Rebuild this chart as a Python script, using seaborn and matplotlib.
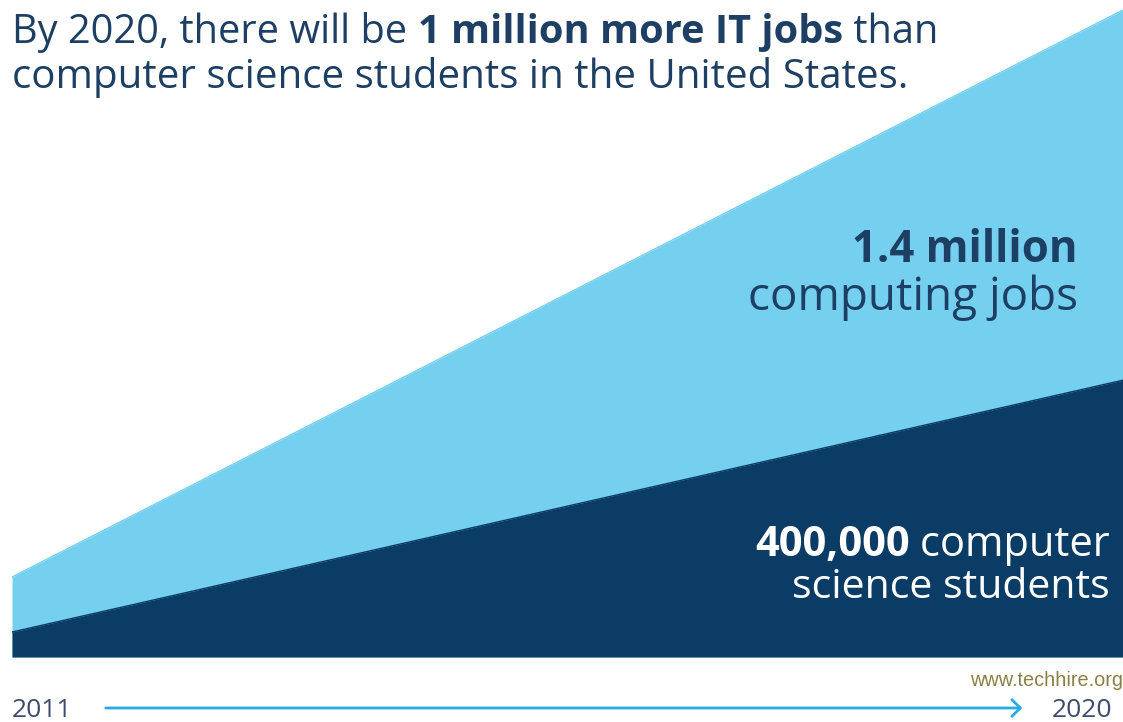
import numpy as np
import pandas as pd
import matplotlib
matplotlib.use('Agg')
import matplotlib.pyplot as plt
import seaborn as sns

# data (area heights as drawn, not to scale with the labels)
years = [2011, 2020]
computing_jobs = [173000, 1400000]
cs_students = [54000, 599000]

light_blue = '#75cfef'
navy = '#0b3c66'
text_navy = '#1d3f63'

sns.set_theme(style='white')
plt.rcParams['font.family'] = ['Open Sans', 'DejaVu Sans']

W, H = 1123, 722
fig = plt.figure(figsize=(W / 100, H / 100), dpi=100)
ax = fig.add_axes([12 / W, (H - 657) / H, 1 - 12 / W, 657 / H])

df = pd.DataFrame({'year': years, 'jobs': computing_jobs, 'students': cs_students})
ax.fill_between(df['year'], 0, df['jobs'], color=light_blue, lw=0)
ax.fill_between(df['year'], 0, df['students'], color=navy, lw=0)
sns.lineplot(data=df, x='year', y='jobs', color=light_blue, lw=1, ax=ax)
sns.lineplot(data=df, x='year', y='students', color=navy, lw=1, ax=ax)

ax.set_xlim(2011, 2020)
ax.set_ylim(0, 1400000 * 657 / 647)
ax.axis('off')


def px(x, y):
    return x / W, 1 - y / H


renderer = fig.canvas.get_renderer()

# headline, first line with bold middle part
x0, y0 = px(12, 43)
parts = [('By 2020, there will be ', 'normal'), ('1 million more IT jobs', 'bold'), (' than', 'normal')]
xx = x0
for s, w in parts:
    t = fig.text(xx, y0, s, fontsize=28.6, fontweight=w, color=text_navy, va='baseline', ha='left')
    bb = t.get_window_extent(renderer)
    xx = bb.x1 / W
x1, y1 = px(12, 88)
fig.text(x1, y1, 'computer science students in the United States.', fontsize=29,
         color=text_navy, va='baseline', ha='left')

# labels inside the areas
fig.text(*px(1078, 262), '1.4 million', fontsize=31.5, fontweight='bold', color=text_navy,
         ha='right', va='baseline')
fig.text(*px(1078, 310), 'computing jobs', fontsize=33, color=text_navy, ha='right', va='baseline')

t = fig.text(*px(1110, 556), ' computer', fontsize=30, color='white', ha='right', va='baseline')
bb = t.get_window_extent(renderer)
fig.text(bb.x0 / W, 1 - 556 / H, '400,000', fontsize=30, fontweight='bold', color='white',
         ha='right', va='baseline')
fig.text(*px(1110, 598), 'science students', fontsize=29.5, color='white', ha='right', va='baseline')

# time arrow at the bottom
fig.text(*px(12, 717), '2011', fontsize=19, color='#3b4c6e', ha='left', va='baseline')
fig.text(*px(1052, 717), '2020', fontsize=19, color='#3b4c6e', ha='left', va='baseline')
fig.add_artist(matplotlib.patches.FancyArrowPatch(px(103, 708), px(1025, 708),
               arrowstyle='->,head_length=6,head_width=6', color='#29abe2', lw=2,
               transform=fig.transFigure))
fig.text(*px(970, 686), 'www.techhire.org', fontsize=14.3, color='#8a8148',
         family='Liberation Sans', ha='left', va='baseline')

fig.savefig('out.png', dpi=100)
